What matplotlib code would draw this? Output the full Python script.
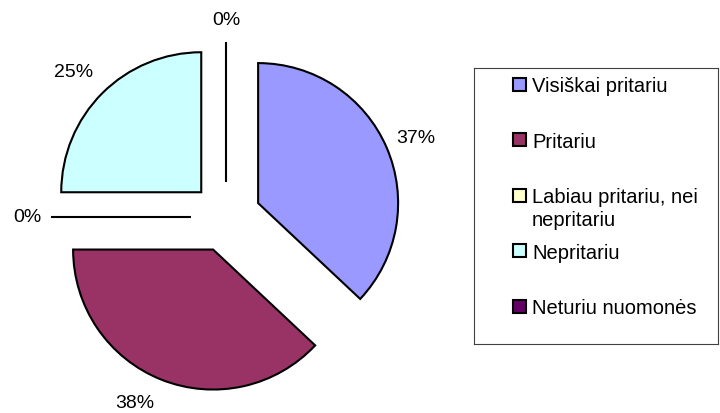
import matplotlib
matplotlib.use('Agg')
import matplotlib.pyplot as plt
from matplotlib.patches import Rectangle

plt.rcParams['font.family'] = ['Liberation Sans', 'DejaVu Sans']

categories = ["Visiškai pritariu", "Pritariu", "Labiau pritariu, nei\nnepritariu",
              "Nepritariu", "Neturiu nuomonės"]
values = [37, 38, 0, 25, 0]
colors = ["#9999FF", "#993366", "#FFFFCC", "#CCFFFF", "#660066"]

W, H = 720, 414
fig = plt.figure(figsize=(W / 100, H / 100), dpi=100)

# pie axes over the whole figure, 1 data unit = 140 px
R = 140.0
cx, cy = 226, 218
ax = fig.add_axes([0, 0, 1, 1])
wedges, texts, pcts = ax.pie(values, colors=colors, startangle=90, counterclock=False,
                             explode=[0.25] * len(values), radius=1,
                             wedgeprops=dict(edgecolor="black", linewidth=1.5),
                             autopct="%.0f%%", pctdistance=1.21,
                             textprops=dict(fontsize=14, color="black"))
ax.set_xlim(-cx / R, (W - cx) / R)
ax.set_ylim(-(H - cy) / R, cy / R)
ax.set_aspect("auto")
ax.axis("off")

# small pixel nudges for the percentage labels (dx right, dy down)
nudges = [(2, 2), (-16, -5), (6, 0), (-8, -1), (0, 7)]
for t, (dx, dy) in zip(pcts, nudges):
    x, y = t.get_position()
    t.set_position((x + dx / R, y - dy / R))

# legend box, drawn in pixel units
lx0, ly0, lx1, ly1 = 474, 69, 718, 345
lax = fig.add_axes([lx0 / W, 1 - ly1 / H, (lx1 - lx0) / W, (ly1 - ly0) / H])
lax.set_xlim(0, lx1 - lx0)
lax.set_ylim(ly1 - ly0, 0)
lax.set_xticks([])
lax.set_yticks([])
lax.patch.set_alpha(0)
for s in lax.spines.values():
    s.set_color("#404040")
    s.set_linewidth(0.8)

for i, (lab, col) in enumerate(zip(categories, colors)):
    y = 16 + i * 55.5
    lax.add_patch(Rectangle((39, y - 6.5), 13, 13, facecolor=col,
                            edgecolor="black", linewidth=1.5))
    for k, line in enumerate(lab.split("\n")):
        lax.text(58, y + k * 23, line, fontsize=14.5, va="center_baseline", ha="left")

fig.savefig("out.png", dpi=100)
